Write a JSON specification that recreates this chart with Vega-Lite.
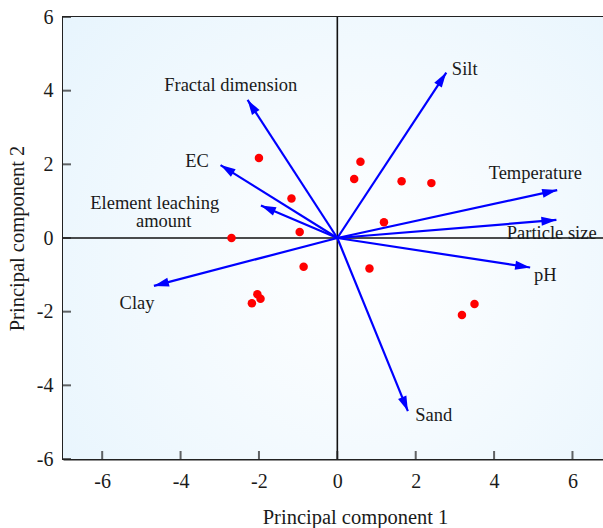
{
  "$schema": "https://vega.github.io/schema/vega-lite/v6.json",
  "width": 542,
  "height": 442,
  "autosize": {"type": "none"},
  "padding": {"left": 63, "top": 17, "right": 0, "bottom": 69},
  "config": {
    "view": {"stroke": "#222222", "strokeWidth": 2},
    "font": "Liberation Serif"
  },
  "datasets": {
    "points": [
      {"x": -2.0, "y": 2.17}, {"x": -1.17, "y": 1.07}, {"x": -2.7, "y": 0.0},
      {"x": -0.96, "y": 0.16}, {"x": -0.86, "y": -0.78}, {"x": -2.04, "y": -1.53},
      {"x": -1.96, "y": -1.65}, {"x": -2.18, "y": -1.77}, {"x": 0.59, "y": 2.07},
      {"x": 0.43, "y": 1.6}, {"x": 1.64, "y": 1.54}, {"x": 2.4, "y": 1.49},
      {"x": 1.19, "y": 0.43}, {"x": 0.82, "y": -0.83}, {"x": 3.5, "y": -1.79},
      {"x": 3.18, "y": -2.09}
    ],
    "vectors": [
      {"name": "Fractal dimension", "x": -2.29, "y": 3.75},
      {"name": "EC", "x": -2.98, "y": 1.98},
      {"name": "Element leaching amount", "x": -1.95, "y": 0.88},
      {"name": "Silt", "x": 2.78, "y": 4.49},
      {"name": "Temperature", "x": 5.61, "y": 1.3},
      {"name": "Particle size", "x": 5.59, "y": 0.49},
      {"name": "pH", "x": 4.92, "y": -0.8},
      {"name": "Sand", "x": 1.8, "y": -4.7},
      {"name": "Clay", "x": -4.68, "y": -1.3}
    ],
    "labels": [
      {"text": "Fractal dimension", "x": -2.72, "y": 4.16},
      {"text": "EC", "x": -3.58, "y": 2.1},
      {"text": "Element leaching", "x": -4.66, "y": 0.95},
      {"text": "amount", "x": -4.43, "y": 0.46},
      {"text": "Silt", "x": 3.25, "y": 4.59},
      {"text": "Temperature", "x": 5.05, "y": 1.76},
      {"text": "Particle size", "x": 5.47, "y": 0.14},
      {"text": "pH", "x": 5.31, "y": -1.0},
      {"text": "Sand", "x": 2.46, "y": -4.81},
      {"text": "Clay", "x": -5.11, "y": -1.77}
    ],
    "ticks": [
      {"v": -6}, {"v": -4}, {"v": -2}, {"v": 0}, {"v": 2}, {"v": 4}, {"v": 6}
    ]
  },
  "layer": [
    {
      "data": {"values": [{}]},
      "mark": {
        "type": "rect",
        "color": {
          "gradient": "radial",
          "x1": 0.55, "y1": 0.55, "r1": 0,
          "x2": 0.55, "y2": 0.55, "r2": 0.75,
          "stops": [
            {"offset": 0, "color": "#ffffff"},
            {"offset": 1, "color": "#e6f4fd"}
          ]
        }
      },
      "encoding": {
        "x": {
          "datum": -7, "type": "quantitative",
          "scale": {"domain": [-7, 6.83], "nice": false, "zero": false},
          "title": "Principal component 1",
          "axis": {
            "values": [-6, -4, -2, 0, 2, 4, 6], "grid": false, "ticks": false,
            "domainColor": "#222222", "domainWidth": 2,
            "labelExpr": "'' + datum.value",
            "labelFont": "Liberation Serif", "labelFontSize": 20, "labelColor": "#1a1a1a",
            "labelPadding": 12,
            "title": "Principal component 1",
            "titleFont": "Liberation Serif", "titleFontSize": 20.5, "titleFontWeight": "normal",
            "titleColor": "#1a1a1a", "titleAlign": "center",
            "titleBaseline": "alphabetic", "titleX": 292, "titleY": 64
          }
        },
        "x2": {"datum": 6.83},
        "y": {
          "datum": -6, "type": "quantitative",
          "scale": {"domain": [-6, 6], "nice": false, "zero": false},
          "title": "Principal component 2",
          "axis": {
            "values": [-6, -4, -2, 0, 2, 4, 6], "grid": false, "ticks": false,
            "domainColor": "#222222", "domainWidth": 2,
            "labelExpr": "'' + datum.value",
            "labelFont": "Liberation Serif", "labelFontSize": 20, "labelColor": "#1a1a1a",
            "labelPadding": 10,
            "title": "Principal component 2",
            "titleFont": "Liberation Serif", "titleFontSize": 20.5, "titleFontWeight": "normal",
            "titleColor": "#1a1a1a", "titleAngle": -90, "titleAlign": "center",
            "titleBaseline": "alphabetic", "titleX": -40, "titleY": 221
          }
        },
        "y2": {"datum": 6}
      }
    },
    {
      "data": {"values": [{}]},
      "mark": {"type": "rule", "color": "#111111", "strokeWidth": 1.6},
      "encoding": {"x": {"datum": 0, "type": "quantitative"}}
    },
    {
      "data": {"values": [{}]},
      "mark": {"type": "rule", "color": "#111111", "strokeWidth": 1.6},
      "encoding": {"y": {"datum": 0, "type": "quantitative"}}
    },
    {
      "data": {"name": "ticks"},
      "mark": {"type": "tick", "orient": "vertical", "color": "#222222", "thickness": 2, "size": 8, "yOffset": -4},
      "encoding": {
        "x": {"field": "v", "type": "quantitative"},
        "y": {"datum": -6, "type": "quantitative"}
      }
    },
    {
      "data": {"name": "ticks"},
      "mark": {"type": "tick", "orient": "horizontal", "color": "#222222", "thickness": 2, "size": 8, "xOffset": 4},
      "encoding": {
        "y": {"field": "v", "type": "quantitative"},
        "x": {"datum": -7, "type": "quantitative"}
      }
    },
    {
      "data": {"name": "vectors"},
      "mark": {"type": "rule", "color": "#0000ff", "strokeWidth": 2.2},
      "encoding": {
        "x": {"field": "x", "type": "quantitative"},
        "y": {"field": "y", "type": "quantitative"},
        "x2": {"datum": 0}, "y2": {"datum": 0}
      }
    },
    {
      "data": {"name": "vectors"},
      "mark": {
        "type": "point", "filled": true, "color": "#0000ff", "opacity": 1,
        "shape": "M0,0L0.6,2L-0.6,2Z", "size": 225,
        "angle": {"expr": "atan2(scale('x', datum.x) - scale('x', 0), scale('y', 0) - scale('y', datum.y)) * 180 / PI"}
      },
      "encoding": {
        "x": {"field": "x", "type": "quantitative"},
        "y": {"field": "y", "type": "quantitative"}
      }
    },
    {
      "data": {"name": "points"},
      "mark": {"type": "circle", "color": "#ff0000", "size": 72, "opacity": 1},
      "encoding": {
        "x": {"field": "x", "type": "quantitative"},
        "y": {"field": "y", "type": "quantitative"}
      }
    },
    {
      "data": {"name": "labels"},
      "mark": {
        "type": "text", "font": "Liberation Serif", "fontSize": 18.5,
        "color": "#1a1a1a", "align": "center", "baseline": "middle"
      },
      "encoding": {
        "text": {"field": "text"},
        "x": {"field": "x", "type": "quantitative"},
        "y": {"field": "y", "type": "quantitative"}
      }
    }
  ]
}
